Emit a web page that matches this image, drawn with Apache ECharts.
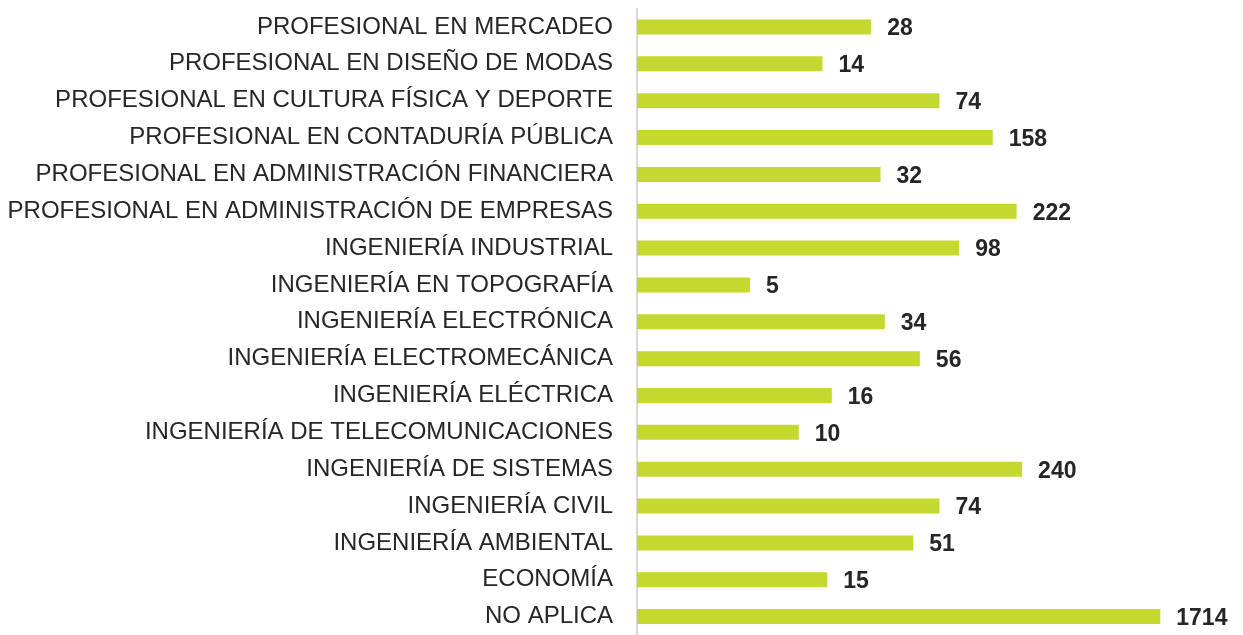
<!DOCTYPE html>
<html>
<head>
<meta charset="utf-8">
<script src="https://cdn.jsdelivr.net/npm/echarts@6/dist/echarts.min.js"></script>
<style>
  html, body { margin: 0; padding: 0; background: #fff; }
  #chart { width: 1243px; height: 635px; }
</style>
</head>
<body>
<div id="chart"></div>
<script>
// categories, top to bottom as in the picture
const programas = [
  "PROFESIONAL EN MERCADEO",
  "PROFESIONAL EN DISEÑO DE MODAS",
  "PROFESIONAL EN CULTURA FÍSICA Y DEPORTE",
  "PROFESIONAL EN CONTADURÍA PÚBLICA",
  "PROFESIONAL EN ADMINISTRACIÓN FINANCIERA",
  "PROFESIONAL EN ADMINISTRACIÓN DE EMPRESAS",
  "INGENIERÍA INDUSTRIAL",
  "INGENIERÍA EN TOPOGRAFÍA",
  "INGENIERÍA ELECTRÓNICA",
  "INGENIERÍA ELECTROMECÁNICA",
  "INGENIERÍA ELÉCTRICA",
  "INGENIERÍA DE TELECOMUNICACIONES",
  "INGENIERÍA DE SISTEMAS",
  "INGENIERÍA CIVIL",
  "INGENIERÍA AMBIENTAL",
  "ECONOMÍA",
  "NO APLICA"
];
const cantidades = [28, 14, 74, 158, 32, 222, 98, 5, 34, 56, 16, 10, 240, 74, 51, 15, 1714];

const chart = echarts.init(document.getElementById("chart"));

const option = {
  backgroundColor: "#ffffff",
  animation: false,
  grid: {
    left: 637,
    right: 7.5,
    top: 8.6,
    bottom: -6.6,
    containLabel: false
  },
  xAxis: {
    type: "log",
    logBase: 10,
    min: 1,
    max: 5000,
    show: false
  },
  yAxis: {
    type: "category",
    inverse: true,
    data: programas,
    axisTick: { show: false },
    axisLine: {
      show: true,
      lineStyle: { color: "#d9d9d9", width: 2 }
    },
    axisLabel: {
      color: "#262626",
      fontSize: 24,
      fontFamily: "'Liberation Sans', Arial, sans-serif",
      margin: 24
    },
    splitLine: { show: false }
  },
  series: [
    {
      type: "bar",
      data: cantidades,
      barWidth: 15,
      itemStyle: { color: "#c5d82f" },
      label: {
        show: true,
        position: "right",
        distance: 16,
        offset: [0, 2],
        color: "#262626",
        fontSize: 23,
        fontWeight: "bold",
        fontFamily: "'Liberation Sans', Arial, sans-serif"
      }
    }
  ]
};

chart.setOption(option);
</script>
</body>
</html>
